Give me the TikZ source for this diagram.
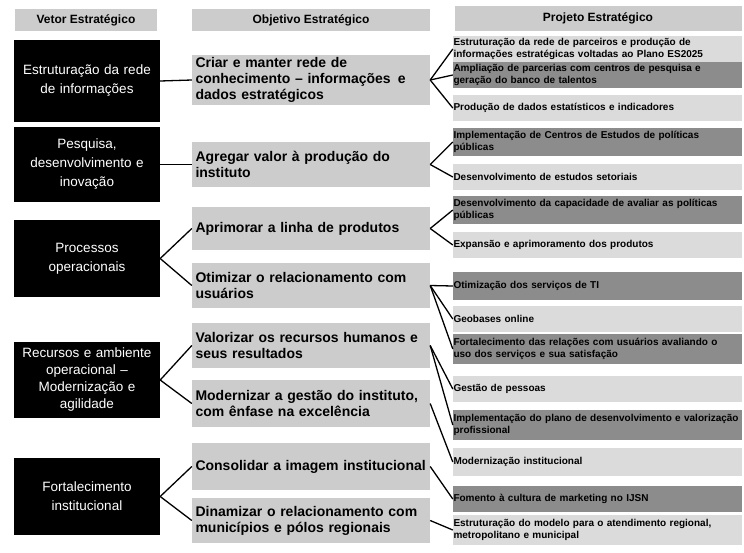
\documentclass[tikz,border=0pt]{standalone}
\usepackage{fontspec}
\setmainfont{Liberation Sans}
\definecolor{lightg}{gray}{0.80}
\definecolor{darkg}{gray}{0.55}
\newcommand{\myrfont}{\bfseries\fontsize{10}{12}\selectfont\hyphenpenalty 10000\relax}
\tikzset{
  hbox/.style={fill=lightg, inner sep=0pt, font=\bfseries\fontsize{12}{14}\selectfont},
  lbox/.style={fill=black, text=white, minimum width=146pt, text width=144pt, align=center, inner sep=0pt, font=\fontsize{13.5}{19}\selectfont},
  mbox/.style={fill=lightg, minimum width=238pt, text width=231pt, align=left, inner xsep=3.5pt, inner ysep=0pt, font=\bfseries\fontsize{14}{16}\selectfont},
  rbox/.style={minimum width=289pt, text width=288pt, align=left, inner xsep=0.5pt, inner ysep=0pt, font=\myrfont},
  rl/.style={rbox, fill=lightg!70!white},
  rd/.style={rbox, fill=darkg},
  conn/.style={draw=black, line width=1.3pt}
}
\begin{document}
\begin{tikzpicture}[x=1pt,y=-1pt]
\useasboundingbox (0,0) rectangle (744,552);
\fill[white] (0,0) rectangle (744,552);
% headers
\node[hbox, minimum width=142pt, minimum height=22pt] (h1) at (86,20) {Vetor Estratégico};
\node[hbox, minimum width=238pt, minimum height=22pt] (h2) at (311,20) {Objetivo Estratégico};
\node[hbox, minimum width=287pt, minimum height=25pt] (h3) at (598,18.5) {Projeto Estratégico};
% left boxes
\node[lbox, minimum height=82pt] (L1) at (87,81) {Estruturação da rede\\de informações};
\node[lbox, minimum height=75pt] (L2) at (87,164.5) {Pesquisa,\\desenvolvimento e\\inovação};
\node[lbox, minimum height=77pt] (L3) at (87,258.5) {Processos\\operacionais};
\node[lbox, minimum height=76pt, font=\fontsize{13.5}{17}\selectfont] (L4) at (87,380) {Recursos e ambiente\\operacional –\\Modernização e\\agilidade};
\node[lbox, minimum height=77pt] (L5) at (87,496.5) {Fortalecimento\\institucional};
% middle boxes
\node[mbox, minimum height=50pt] (M1) at (311,80) {Criar e manter rede de\\conhecimento – informações\enspace e\\dados estratégicos};
\node[mbox, minimum height=45pt] (M2) at (311,164.5) {Agregar valor à produção do\\instituto};
\node[mbox, minimum height=43pt] (M3) at (311,228.5) {Aprimorar a linha de produtos};
\node[mbox, minimum height=45pt] (M4) at (311,285.5) {Otimizar o relacionamento com\\usuários};
\node[mbox, minimum height=45pt] (M5) at (311,345.5) {Valorizar os recursos humanos e\\seus resultados};
\node[mbox, minimum height=47pt] (M6) at (311,403.5) {Modernizar a gestão do instituto,\\com ênfase na excelência};
\node[mbox, minimum height=47pt] (M7) at (311,466.5) {Consolidar a imagem institucional};
\node[mbox, minimum height=45pt] (M8) at (311,520.5) {Dinamizar o relacionamento com\\municípios e pólos regionais};
% right items
\node[rl, minimum height=26pt] (R1) at (597.5,49) {Estruturação da rede de parceiros e produção de\\informações estratégicas voltadas ao Plano ES2025};
\node[rd, minimum height=26pt] (R2) at (597.5,75) {Ampliação de parcerias com centros de pesquisa e\\geração do banco de talentos};
\node[rl, minimum height=26pt] (R3) at (597.5,108) {Produção de dados estatísticos e indicadores};
\node[rd, minimum height=28pt] (R4) at (597.5,142) {Implementação de Centros de Estudos de políticas\\públicas};
\node[rl, minimum height=26pt] (R5) at (597.5,177) {Desenvolvimento de estudos setoriais};
\node[rd, minimum height=28pt] (R6) at (597.5,210) {Desenvolvimento da capacidade de avaliar as políticas\\públicas};
\node[rl, minimum height=26pt] (R7) at (597.5,245) {Expansão e aprimoramento dos produtos};
\node[rd, minimum height=28pt] (R8) at (597.5,286) {Otimização dos serviços de TI};
\node[rl, minimum height=26pt] (R9) at (597.5,319) {Geobases online};
\node[rd, minimum height=30pt] (R10) at (597.5,349) {Fortalecimento das relações com usuários avaliando o\\uso dos serviços e sua satisfação};
\node[rl, minimum height=26pt] (R11) at (597.5,389) {Gestão de pessoas};
\node[rd, minimum height=30pt] (R12) at (597.5,425) {Implementação do plano de desenvolvimento e valorização\\profissional};
\node[rl, minimum height=28pt] (R13) at (597.5,462) {Modernização institucional};
\node[rd, minimum height=26pt] (R14) at (597.5,499) {Fomento à cultura de marketing no IJSN};
\node[rl, minimum height=30pt] (R15) at (597.5,530) {Estruturação do modelo para o atendimento regional,\\metropolitano e municipal};
% connectors left-middle
\draw[conn] (L1.east) -- (M1.west);
\draw[conn] (L2.east) -- (M2.west);
\draw[conn] (L3.east) -- (M3.west);
\draw[conn] (L3.east) -- (M4.west);
\draw[conn] (L4.east) -- (M5.west);
\draw[conn] (L4.east) -- (M6.west);
\draw[conn] (L5.east) -- (M7.west);
\draw[conn] (L5.east) -- (M8.west);
% connectors middle-right
\draw[conn] (M1.east) -- (R1.west);
\draw[conn] (M1.east) -- (R2.west);
\draw[conn] (M1.east) -- (R3.west);
\draw[conn] (M2.east) -- (R4.west);
\draw[conn] (M2.east) -- (R5.west);
\draw[conn] (M3.east) -- (R6.west);
\draw[conn] (M3.east) -- (R7.west);
\draw[conn] (M4.east) -- (R8.west);
\draw[conn] (M4.east) -- (R9.west);
\draw[conn] (M4.east) -- (R10.west);
\draw[conn] (M5.east) -- (R11.west);
\draw[conn] (M5.east) -- (R12.west);
\draw[conn] (M6.east) -- (R13.west);
\draw[conn] (M7.east) -- (R14.west);
\draw[conn] (M8.east) -- (R15.west);
\end{tikzpicture}
\end{document}
